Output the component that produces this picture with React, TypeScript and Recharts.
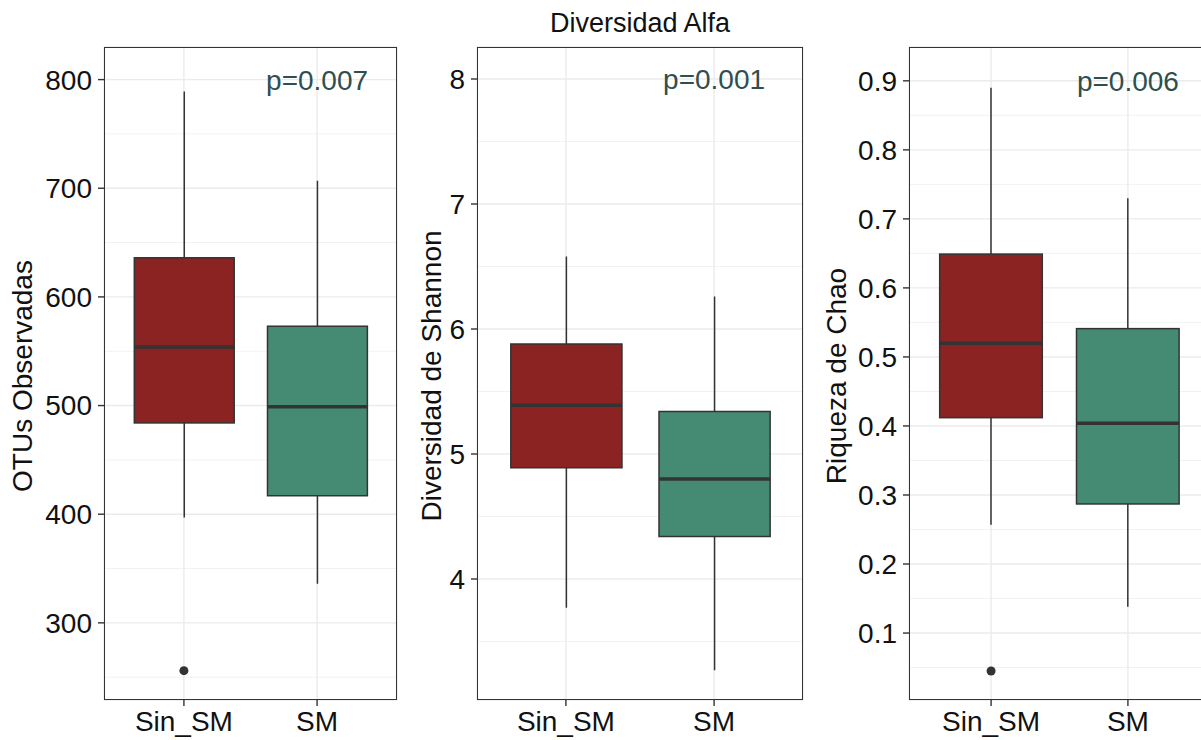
import React from "react";
import {
  ComposedChart,
  Bar,
  Scatter,
  XAxis,
  YAxis,
  CartesianGrid,
  ReferenceDot,
} from "recharts";

// groups shared by the three panels
const groups = ["Sin_SM", "SM"];
const fills = ["#8B2323", "#458B74"];

// OTUs observadas
const otusMin = [397, 336];
const otusQ1 = [484, 417];
const otusMed = [554, 499];
const otusQ3 = [636, 573];
const otusMax = [789, 707];
const otusOutlier = [256, null];
const otusTicks = [300, 400, 500, 600, 700, 800];
const otusMinor = [250, 350, 450, 550, 650, 750];

// Shannon
const shannonMin = [3.77, 3.27];
const shannonQ1 = [4.89, 4.34];
const shannonMed = [5.39, 4.8];
const shannonQ3 = [5.88, 5.34];
const shannonMax = [6.58, 6.26];
const shannonOutlier = [null, null];
const shannonTicks = [4, 5, 6, 7, 8];
const shannonMinor = [3.5, 4.5, 5.5, 6.5, 7.5];

// Chao
const chaoMin = [0.257, 0.138];
const chaoQ1 = [0.412, 0.287];
const chaoMed = [0.52, 0.404];
const chaoQ3 = [0.649, 0.541];
const chaoMax = [0.89, 0.73];
const chaoOutlier = [0.045, null];
const chaoTicks = [0.1, 0.2, 0.3, 0.4, 0.5, 0.6, 0.7, 0.8, 0.9];
const chaoMinor = [0.05, 0.15, 0.25, 0.35, 0.45, 0.55, 0.65, 0.75, 0.85];

const FONT = "'Liberation Sans', Arial, sans-serif";
const TOP = 47;
const BOTTOM = 700;
const H = 740;

function buildRows(min, q1, med, q3, max, outlier) {
  return groups.map((g, i) => ({
    group: g,
    box: [q1[i], q3[i]],
    min: min[i],
    med: med[i],
    max: max[i],
    outlier: outlier[i],
    fill: fills[i],
  }));
}

function BoxShape(props: any) {
  const { x, y, width, height, payload } = props;
  const [lo, hi] = payload.box;
  const top = Math.min(y, y + height);
  const h = Math.abs(height);
  const ppu = h / (hi - lo);
  const cx = x + width / 2;
  const yMax = top - (payload.max - hi) * ppu;
  const yMin = top + h + (lo - payload.min) * ppu;
  const yMed = top + (hi - payload.med) * ppu;
  return (
    <g>
      <line x1={cx} x2={cx} y1={yMax} y2={yMin} stroke="#333" strokeWidth={1.5} />
      <rect x={x} y={top} width={width} height={h} fill={payload.fill} stroke="#333" strokeWidth={1.5} />
      <line x1={x} x2={x + width} y1={yMed} y2={yMed} stroke="#333" strokeWidth={3.5} />
    </g>
  );
}

function Outlier(props: any) {
  if (props.payload?.outlier == null || !Number.isFinite(props.cy)) return <g />;
  return <circle cx={props.cx} cy={props.cy} r={4.5} fill="#333" />;
}

interface PanelProps {
  left: number;
  width: number;
  axisWidth: number;
  rightMargin: number;
  rows: any[];
  domain: [number, number];
  ticks: number[];
  minor: number[];
  title: string;
  titleX: number;
  pText: string;
  pY: number;
}

function Panel(p: PanelProps) {
  const plotW = p.width - p.axisWidth - p.rightMargin;
  const pad = plotW * (0.1 / 2.2);
  const barSize = plotW * (0.75 / 2.2);
  return (
    <div style={{ position: "absolute", left: p.left, top: 0, width: p.width, height: H }}>
      <ComposedChart
        width={p.width}
        height={H}
        data={p.rows}
        margin={{ top: TOP, right: p.rightMargin, bottom: 0, left: 0 }}
      >
        <CartesianGrid
          stroke="#F2F2F2"
          strokeWidth={1}
          vertical={false}
          horizontalValues={p.minor}
        />
        <CartesianGrid stroke="#EBEBEB" strokeWidth={1.4} />
        <XAxis
          dataKey="group"
          type="category"
          height={H - BOTTOM}
          padding={{ left: pad, right: pad }}
          axisLine={false}
          tickSize={6}
          tickMargin={5}
          tickLine={{ stroke: "#333", strokeWidth: 1.4 }}
          tick={{ fill: "#111", fontSize: 28 }}
        />
        <YAxis
          type="number"
          width={p.axisWidth}
          domain={p.domain}
          ticks={p.ticks}
          interval={0}
          allowDataOverflow
          axisLine={false}
          tickSize={6}
          tickMargin={6}
          tickLine={{ stroke: "#333", strokeWidth: 1.4 }}
          tick={{ fill: "#111", fontSize: 28 }}
        />
        <Bar dataKey="box" barSize={barSize} shape={BoxShape} isAnimationActive={false} />
        <Scatter dataKey="outlier" shape={Outlier} isAnimationActive={false} />
        <ReferenceDot
          x="SM"
          y={p.pY}
          r={0}
          fill="none"
          stroke="none"
          label={{ value: p.pText, position: "center", fill: "#2F4F4F", fontSize: 28 }}
        />
      </ComposedChart>
      <div
        style={{
          position: "absolute",
          left: p.axisWidth,
          top: TOP,
          width: plotW,
          height: BOTTOM - TOP,
          border: "1.5px solid #333",
          boxSizing: "border-box",
          pointerEvents: "none",
        }}
      />
      <div
        style={{
          position: "absolute",
          left: p.titleX,
          top: (TOP + BOTTOM) / 2 + 2,
          transform: "translate(-50%, -50%) rotate(-90deg)",
          whiteSpace: "nowrap",
          fontSize: 28,
          color: "#111",
        }}
      >
        {p.title}
      </div>
    </div>
  );
}

export default function App() {
  return (
    <div
      style={{
        position: "absolute",
        left: 0,
        top: 0,
        width: 1201,
        height: H,
        overflow: "hidden",
        background: "#fff",
        fontFamily: FONT,
      }}
    >
      <div
        style={{
          position: "absolute",
          left: 640,
          top: 8,
          transform: "translateX(-50%)",
          fontSize: 27,
          whiteSpace: "nowrap",
          color: "#111",
        }}
      >
        Diversidad Alfa
      </div>
      <Panel
        left={0}
        width={400}
        axisWidth={104}
        rightMargin={3}
        rows={buildRows(otusMin, otusQ1, otusMed, otusQ3, otusMax, otusOutlier)}
        domain={[229, 830]}
        ticks={otusTicks}
        minor={otusMinor}
        title="OTUs Observadas"
        titleX={23}
        pText="p=0.007"
        pY={800}
      />
      <Panel
        left={400}
        width={406}
        axisWidth={77}
        rightMargin={3}
        rows={buildRows(shannonMin, shannonQ1, shannonMed, shannonQ3, shannonMax, shannonOutlier)}
        domain={[3.032, 8.256]}
        ticks={shannonTicks}
        minor={shannonMinor}
        title="Diversidad de Shannon"
        titleX={32}
        pText="p=0.001"
        pY={8}
      />
      <Panel
        left={806}
        width={410}
        axisWidth={103}
        rightMargin={6}
        rows={buildRows(chaoMin, chaoQ1, chaoMed, chaoQ3, chaoMax, chaoOutlier)}
        domain={[0.003, 0.949]}
        ticks={chaoTicks}
        minor={chaoMinor}
        title="Riqueza de Chao"
        titleX={31}
        pText="p=0.006"
        pY={0.9}
      />
    </div>
  );
}
